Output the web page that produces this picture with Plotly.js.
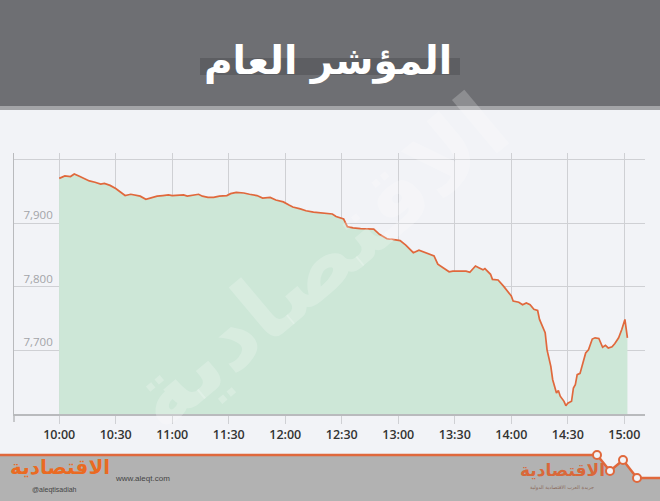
<!DOCTYPE html>
<html>
<head>
<meta charset="utf-8">
<script src="https://cdn.plot.ly/plotly-3.0.1.min.js"></script>
<style>
html,body{margin:0;padding:0;background:#f2f3f7;}
#chart{width:660px;height:501px;}
</style>
</head>
<body>
<div id="chart"></div>
<script>
// ---- data ----
var times = ["10:00","10:03","10:06","10:08","10:11","10:14","10:16","10:19","10:22","10:24",
"10:27","10:30","10:32","10:35","10:38","10:40","10:43","10:46","10:49","10:52",
"10:55","10:58","11:00","11:03","11:06","11:08","11:11","11:14","11:16","11:19",
"11:22","11:25","11:29","11:31","11:34","11:38","11:41","11:45","11:48","11:52",
"11:55","11:59","12:02","12:04","12:08","12:11","12:15","12:18","12:22","12:25",
"12:27","12:31","12:33","12:36","12:40","12:43","12:47","12:50","12:54","12:57",
"13:01","13:04","13:08","13:11","13:13","13:17","13:19","13:21","13:24","13:27",
"13:29","13:33","13:36","13:38","13:41","13:43","13:45","13:46","13:49","13:50",
"13:53","13:56","13:58","14:00","14:01","14:04","14:06","14:08","14:10","14:12",
"14:14","14:15","14:18","14:19","14:21","14:22","14:24","14:25","14:26","14:28",
"14:29","14:30","14:32","14:33","14:34","14:35","14:36:30","14:38","14:39:30","14:41",
"14:43","14:44:30","14:46:30","14:48:30","14:50","14:51:30","14:53:30","14:55","14:57","14:58:40",
"15:00:20","15:01:40"];
var values = [7971,7975,7974,7978,7974,7969,7967,7965,7962,7963,
7960,7955,7950,7944,7946,7945,7943,7938,7941,7943,
7944,7945,7944,7944,7945,7943,7944,7946,7943,7941,
7941,7943,7944,7947,7949,7948,7946,7944,7940,7941,
7937,7934,7929,7926,7923,7920,7918,7917,7915,7915,
7911,7907,7895,7893,7892,7892,7891,7883,7876,7875,
7873,7866,7854,7858,7856,7851,7849,7836,7830,7824,
7825,7825,7825,7823,7833,7830,7827,7829,7820,7812,
7811,7801,7794,7786,7778,7776,7772,7775,7772,7765,
7763,7749,7728,7701,7675,7654,7633,7637,7628,7620,
7613,7617,7620,7641,7646,7662,7664,7680,7696,7701,
7718,7720,7719,7705,7708,7704,7706,7711,7720,7733,
7749,7720];
var yTickVals = [7600,7700,7800,7900,8000];
var yTickText = ["","7,700","7,800","7,900",""];
var titleText = "المؤشر العام";
var logoText = "الاقتصادية";

var day = "2024-01-01 ";
var x = times.map(function(t){return day + t;});

// ---- geometry helpers (pixel -> paper) ----
var L=14, R=15, T=153, B=87, W=660, H=501;
var pw = W-L-R, ph = H-T-B;
function X(px){return (px-L)/pw;}
function Y(py){return (H-B-py)/ph;}

var orange = "#e0683c";
var shapes = [
  // header
  {type:"rect",xref:"paper",yref:"paper",x0:X(0),x1:X(660),y0:Y(110),y1:Y(0),fillcolor:"#a3a4a7",line:{width:0},layer:"below"},
  {type:"rect",xref:"paper",yref:"paper",x0:X(0),x1:X(660),y0:Y(106),y1:Y(0),fillcolor:"#6e6f73",line:{width:0},layer:"below"},
  {type:"rect",xref:"paper",yref:"paper",x0:X(200),x1:X(460),y0:Y(75),y1:Y(58),fillcolor:"#5d5e62",line:{width:0},layer:"below"},
  // footer gray area
  {type:"path",xref:"paper",yref:"paper",
   path:"M "+X(0)+","+Y(455)+" L "+X(597)+","+Y(455)+" L "+X(610)+","+Y(471)+" L "+X(623)+","+Y(460)+" L "+X(637)+","+Y(478)+" L "+X(660)+","+Y(478)+" L "+X(660)+","+Y(501)+" L "+X(0)+","+Y(501)+" Z",
   fillcolor:"#b2b2b2",line:{width:0},layer:"below"},
  {type:"path",xref:"paper",yref:"paper",
   path:"M "+X(0)+","+Y(455)+" L "+X(597)+","+Y(455)+" L "+X(610)+","+Y(471)+" L "+X(623)+","+Y(460)+" L "+X(637)+","+Y(478)+" L "+X(660)+","+Y(478),
   line:{color:orange,width:2.5}},
  // y axis extension below
  {type:"line",xref:"paper",yref:"paper",x0:0,x1:0,y0:Y(422),y1:Y(414),line:{color:"#b9babd",width:1.5}}
];
[[597,455],[610,471],[623,460],[637,478]].forEach(function(p){
  shapes.push({type:"circle",xref:"paper",yref:"paper",
    x0:X(p[0]-4),x1:X(p[0]+4),y0:Y(p[1]+4),y1:Y(p[1]-4),
    fillcolor:"#f2f3f7",line:{color:orange,width:2}});
});

var annotations = [
  {xref:"paper",yref:"paper",x:X(328),y:Y(61),text:"<b>"+titleText+"</b>",showarrow:false,
   font:{family:"DejaVu Sans",size:39,color:"#ffffff"},xanchor:"center",yanchor:"middle"},
  {xref:"paper",yref:"paper",x:X(318),y:Y(262),text:"<b>"+logoText+"</b>",showarrow:false,textangle:-40,
   font:{family:"DejaVu Sans",size:92,color:"rgba(255,255,255,0.22)"},xanchor:"center",yanchor:"middle"},
  {xref:"paper",yref:"paper",x:X(60),y:Y(467),text:"<b>"+logoText+"</b>",showarrow:false,
   font:{family:"DejaVu Sans",size:20,color:"#ea6a22"},xanchor:"center",yanchor:"middle"},
  {xref:"paper",yref:"paper",x:X(30),y:Y(490),text:"@aleqtisadiah",showarrow:false,
   font:{family:"Liberation Sans",size:7,color:"#444"},xanchor:"left",yanchor:"middle"},
  {xref:"paper",yref:"paper",x:X(113),y:Y(479),text:"www.aleqt.com",showarrow:false,
   font:{family:"Liberation Sans",size:8,color:"#444"},xanchor:"left",yanchor:"middle"},
  {xref:"paper",yref:"paper",x:X(562),y:Y(470),text:"<b>"+logoText+"</b>",showarrow:false,
   font:{family:"DejaVu Sans",size:17,color:"#d9683a"},xanchor:"center",yanchor:"middle"},
  {xref:"paper",yref:"paper",x:X(562),y:Y(487),text:"جريدة العرب الاقتصادية الدولية",showarrow:false,
   font:{family:"DejaVu Sans",size:5,color:"#8a6a5a"},xanchor:"center",yanchor:"middle"}
];

var trace = {
  type:"scatter",mode:"lines",x:x,y:values,
  line:{color:orange,width:1.7,shape:"linear"},
  fill:"tozeroy",fillcolor:"#cde7d7",
  hoverinfo:"skip"
};

var layout = {
  width:W,height:H,
  margin:{l:L,r:R,t:T,b:B,pad:0},
  paper_bgcolor:"#f2f3f7",plot_bgcolor:"#f2f3f7",
  showlegend:false,
  xaxis:{type:"date",range:[day+"09:36",day+"15:11"],
    tick0:day+"10:00",dtick:1800000,tickformat:"%H:%M",
    showgrid:true,gridcolor:"#cfd0d4",gridwidth:1,
    ticks:"outside",ticklen:8,tickcolor:"#cfd0d4",tickwidth:1,
    showline:true,linecolor:"#b9babd",linewidth:1.5,zeroline:false,
    tickfont:{family:"Open Sans",size:12.5,color:"#333333",weight:600},
    fixedrange:true},
  yaxis:{range:[7600,8011],tickvals:yTickVals,ticktext:yTickText,
    showgrid:true,gridcolor:"#cfd0d4",gridwidth:1,
    ticks:"",ticklabelposition:"inside top",ticklabelstandoff:8,
    showline:true,linecolor:"#b9babd",linewidth:1.5,zeroline:false,
    tickfont:{family:"Open Sans",size:11.5,color:"#a3a4a8"},
    fixedrange:true},
  shapes:shapes,
  annotations:annotations
};

Plotly.newPlot("chart",[trace],layout,{displayModeBar:false,staticPlot:true});
</script>
</body>
</html>
